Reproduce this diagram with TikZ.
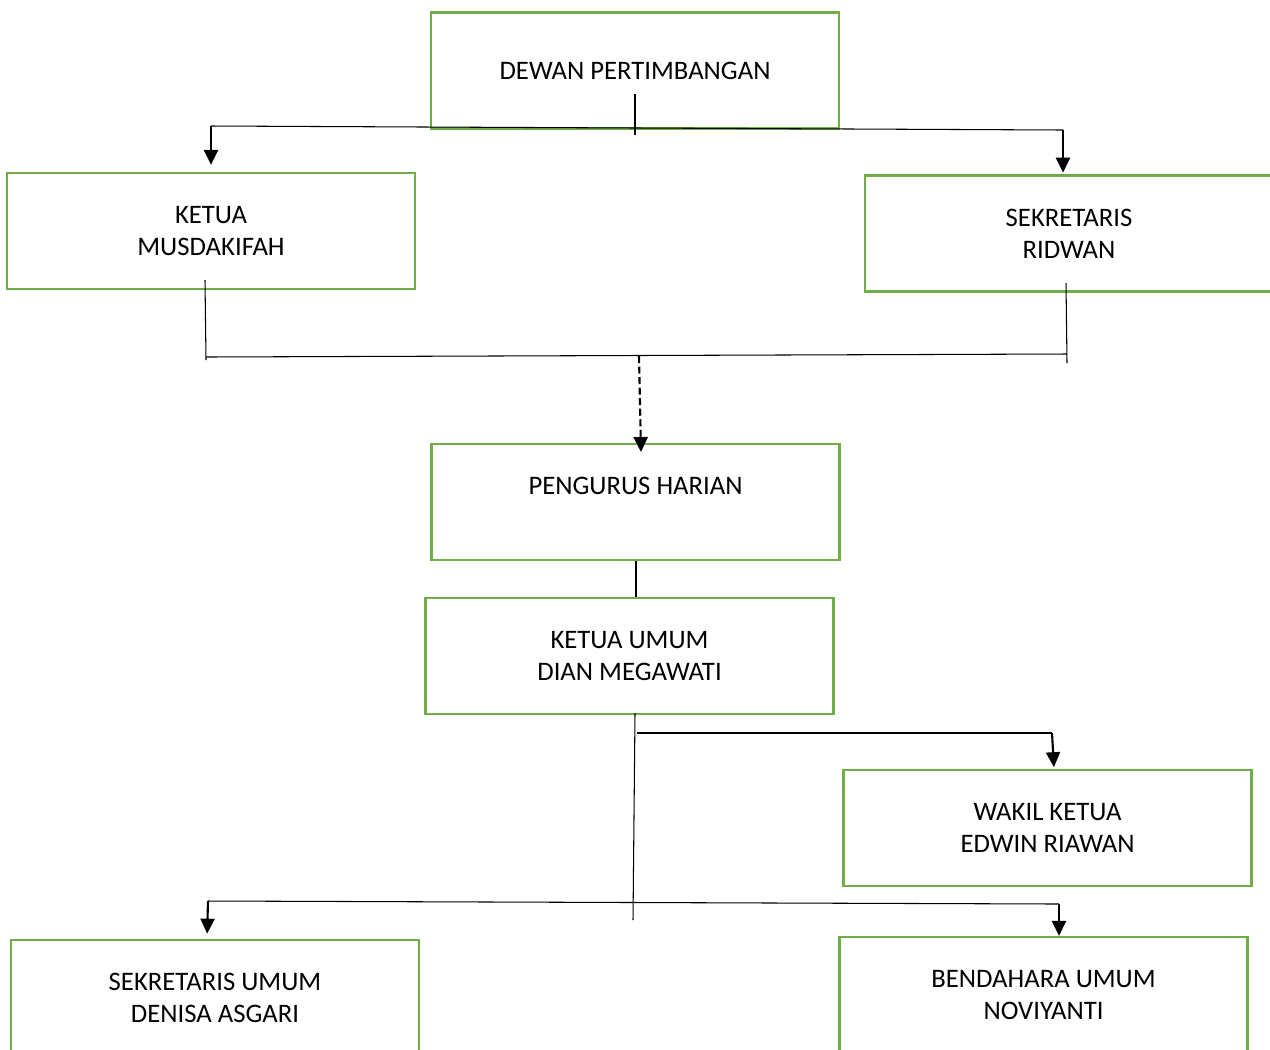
\documentclass[tikz,border=0pt]{standalone}
\usepackage{fontspec}
\setmainfont{Carlito}
\usetikzlibrary{arrows.meta}
\definecolor{boxgreen}{HTML}{70AD47}

\begin{document}
\begin{tikzpicture}[x=0.02cm, y=-0.02cm,
        unit/.style={draw=boxgreen, line width=1.3pt, minimum width=8.16cm, minimum height=2.32cm, inner sep=0pt, align=center, font=\fontsize{15.2}{18.2}\selectfont},
        conn/.style={line width=0.6pt},
        heavy/.style={line width=1.2pt},
        >={Triangle[length=8.5pt,width=8pt]}
        ]
        \clip (0,0) rectangle (1270,1049);

        \node[unit] (dewan) at (635,70.5) {DEWAN PERTIMBANGAN};
        \node[unit] (ketua) at (211,231) {KETUA\\MUSDAKIFAH};
        \node[unit] (sekre) at (1069,233.5) {SEKRETARIS\\RIDWAN};
        \node[unit] (pengurus) at (635.5,502) {PENGURUS HARIAN\\\mbox{}};
        \node[unit] (ketum) at (629.5,656) {KETUA UMUM\\DIAN MEGAWATI};
        \node[unit] (wakil) at (1047.5,828) {WAKIL KETUA\\EDWIN RIAWAN};
        \node[unit] (sekum) at (215,998) {SEKRETARIS UMUM\\DENISA ASGARI};
        \node[unit] (bendum) at (1043.5,995) {BENDAHARA UMUM\\NOVIYANTI};

        % dewan to ketua and sekretaris
        \coordinate (d1) at (635,94);
        \coordinate (d2) at (635,135);
        \coordinate (tl) at (211,126);
        \coordinate (tr) at (1063,130);
        \draw[conn] (d1) -- (d2);
        \draw[conn] (tl) -- (tr);
        \draw[heavy,->] (tl) -- (ketua.north -| tl) [shorten >=4pt];
        \draw[heavy,->] (tr) -- (sekre.north -| tr) [shorten >=1pt];

        % ketua and sekretaris to pengurus harian
        \coordinate (k1) at (205,280);
        \coordinate (k2) at (206,360);
        \coordinate (s1) at (1066,283);
        \coordinate (s2) at (1067,363);
        \coordinate (ml) at (206,357);
        \coordinate (mr) at (1067,354);
        \coordinate (mc) at (639,356);
        \draw[conn] (k1) -- (k2);
        \draw[conn] (s1) -- (s2);
        \draw[conn] (ml) -- (mr);
        \draw[heavy,dash pattern=on 4pt off 2pt,->] (mc) -- (641,452);

        \draw[heavy] (pengurus.south -| 636,0) -- (ketum.north -| 636,0);

        % ketua umum to the rest
        \coordinate (u1) at (635,713);
        \coordinate (u2) at (633,920);
        \coordinate (w1) at (637,733);
        \coordinate (w2) at (1052,733);
        \draw[conn] (u1) -- (u2);
        \draw[heavy] (w1) -- (w2);
        \draw[heavy,->] (w2) -- (wakil.north -| 1054,0) [shorten >=1pt];

        \coordinate (bl) at (208,901);
        \coordinate (br) at (1059,904);
        \draw[conn] (bl) -- (br);
        \draw[heavy,->] (bl) -- (sekum.north -| 207,0) [shorten >=3pt];
        \draw[heavy,->] (br) -- (bendum.north -| br);
\end{tikzpicture}
\end{document}
